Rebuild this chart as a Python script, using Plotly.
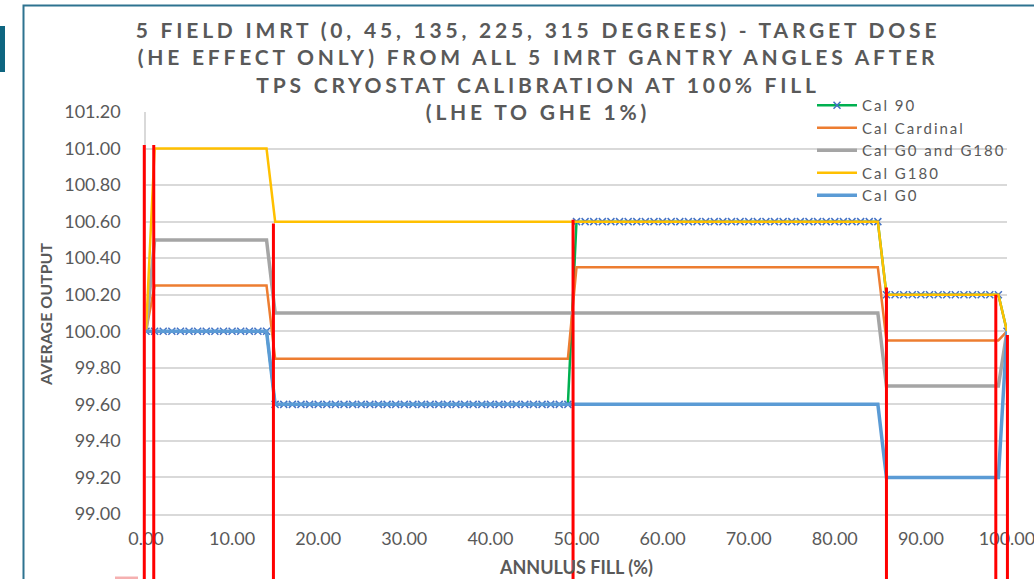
import plotly.graph_objects as go

# ---------------- data ----------------
fill_pct = [0, 1, 2, 3, 4, 5, 6, 7, 8, 9, 10, 11, 12, 13, 14, 15, 16, 17, 18, 19, 20,
            21, 22, 23, 24, 25, 26, 27, 28, 29, 30, 31, 32, 33, 34, 35, 36, 37, 38, 39, 40,
            41, 42, 43, 44, 45, 46, 47, 48, 49, 50, 51, 52, 53, 54, 55, 56, 57, 58, 59, 60,
            61, 62, 63, 64, 65, 66, 67, 68, 69, 70, 71, 72, 73, 74, 75, 76, 77, 78, 79, 80,
            81, 82, 83, 84, 85, 86, 87, 88, 89, 90, 91, 92, 93, 94, 95, 96, 97, 98, 99, 100]

# values read per fill point (0 | 1-14 | 15-49 | 50-85 | 86-99 | 100)
cal_90 = [100.0] + [100.0] * 14 + [99.6] * 35 + [100.6] * 36 + [100.2] * 14 + [100.0]
cal_cardinal = [100.0] + [100.25] * 14 + [99.85] * 35 + [100.35] * 36 + [99.95] * 14 + [100.0]
cal_g0_g180 = [100.0] + [100.5] * 14 + [100.1] * 35 + [100.1] * 36 + [99.7] * 14 + [100.0]
cal_g180 = [100.0] + [101.0] * 14 + [100.6] * 35 + [100.6] * 36 + [100.2] * 14 + [100.0]
cal_g0 = [100.0] + [100.0] * 14 + [99.6] * 35 + [99.6] * 36 + [99.2] * 14 + [100.0]

series_names = ["Cal 90", "Cal Cardinal", "Cal G0 and G180", "Cal G180", "Cal G0"]
series_values = [cal_90, cal_cardinal, cal_g0_g180, cal_g180, cal_g0]
series_colors = ["#00b050", "#ed7d31", "#a5a5a5", "#ffc000", "#5b9bd5"]
series_widths = [2.5, 2.5, 3.5, 2.5, 3.5]

# red marker lines drawn over the chart (x position, top value)
red_line_x = [-0.2, 0.9, 14.8, 49.6, 86.0, 98.7, 100.05]
red_line_top = [101.02, 101.02, 100.59, 100.61, 100.24, 100.20, 99.98]

x_ticks = [0, 10, 20, 30, 40, 50, 60, 70, 80, 90, 100]
y_ticks = [99.0, 99.2, 99.4, 99.6, 99.8, 100.0, 100.2, 100.4, 100.6, 100.8, 101.0, 101.2]
X_RANGE = [0, 100]
Y_RANGE = [99.0, 101.2]

title_lines = [
    "5 FIELD IMRT (0, 45, 135, 225, 315 DEGREES) - TARGET DOSE",
    "(HE EFFECT ONLY) FROM ALL 5 IMRT GANTRY ANGLES AFTER",
    "TPS CRYOSTAT CALIBRATION AT 100% FILL",
    "(LHE TO GHE 1%)",
]
x_title = "ANNULUS FILL (%)"
y_title = "AVERAGE OUTPUT"

# ---------------- layout geometry ----------------
W, H = 1034, 579
L, R, T, B = 146, 27, 112, 65
PW, PH = W - L - R, H - T - B


def px_x(px):
    return (px - L) / PW


def px_y(py):
    return (H - B - py) / PH


TEXT = "#595959"
FONT = "Lato, 'Open Sans', sans-serif"

fig = go.Figure()
for i, (name, vals, col, w) in enumerate(zip(series_names, series_values, series_colors, series_widths)):
    label = '<span style="letter-spacing:2px">' + name + "</span>"
    if i == 0:
        fig.add_trace(go.Scatter(
            x=fill_pct, y=vals, name=label, mode="lines+markers",
            line=dict(color=col, width=w),
            marker=dict(symbol="x-thin", size=7, color="#4472c4",
                        line=dict(color="#4472c4", width=1.5)),
        ))
    else:
        fig.add_trace(go.Scatter(
            x=fill_pct, y=vals, name=label, mode="lines",
            line=dict(color=col, width=w),
        ))

shapes = []
for xv, top in zip(red_line_x, red_line_top):
    xd = (xv - X_RANGE[0]) / (X_RANGE[1] - X_RANGE[0])
    shapes.append(dict(
        type="line", xref="x domain", yref="y domain",
        x0=xd, x1=xd,
        y0=(top - Y_RANGE[0]) / (Y_RANGE[1] - Y_RANGE[0]), y1=-0.2,
        line=dict(color="#ff0000", width=3), layer="above",
    ))
# slide frame decorations
shapes.append(dict(type="rect", xref="paper", yref="paper",
                   x0=px_x(23.5), x1=px_x(1045), y0=px_y(5.5), y1=px_y(600),
                   line=dict(color="#2e7390", width=2), fillcolor="rgba(0,0,0,0)", layer="below"))
shapes.append(dict(type="rect", xref="paper", yref="paper",
                   x0=px_x(-3), x1=px_x(5), y0=px_y(26), y1=px_y(72),
                   line=dict(width=0), fillcolor="#0e6580"))
shapes.append(dict(type="rect", xref="paper", yref="paper",
                   x0=px_x(115), x1=px_x(138), y0=px_y(576.5), y1=px_y(585),
                   line=dict(width=0), fillcolor="#f5b0b0"))

title_html = "<br>".join(
    '<span style="letter-spacing:3.8px">' + t + "</span>" for t in title_lines
)

fig.update_layout(
    width=W, height=H,
    margin=dict(l=L, r=R, t=T, b=B, autoexpand=False),
    paper_bgcolor="white", plot_bgcolor="white",
    font=dict(family=FONT, color=TEXT),
    title=dict(text=title_html, xref="container", yref="container",
               x=538 / W, xanchor="center", y=1 - 38 / H, yanchor="top",
               font=dict(family=FONT, size=21, color=TEXT, weight="bold")),
    xaxis=dict(range=X_RANGE, tickvals=x_ticks, tickformat=".2f",
               showgrid=False, zeroline=False, showline=True,
               linecolor="#d9d9d9", linewidth=1.5, ticks="",
               tickfont=dict(family=FONT, size=18, color=TEXT),
               ticklabelstandoff=8, ticklabeloverflow="allow", automargin=False),
    yaxis=dict(range=Y_RANGE, tickvals=y_ticks, tickformat=".2f",
               showgrid=True, gridcolor="#d9d9d9", gridwidth=1.5,
               zeroline=False, showline=True, linecolor="#d9d9d9", linewidth=1.5,
               ticks="", tickfont=dict(family=FONT, size=18, color=TEXT),
               ticklabelstandoff=20, automargin=False),
    legend=dict(x=px_x(812), y=px_y(89), xanchor="left", yanchor="top",
                bgcolor="rgba(0,0,0,0)", borderwidth=0,
                font=dict(family=FONT, size=15, color=TEXT),
                itemwidth=40, tracegroupgap=0),
    showlegend=True,
    shapes=shapes,
    annotations=[
        dict(text="<b>" + x_title + "</b>", xref="paper", yref="paper",
             x=px_x(576), y=px_y(567), xanchor="center", yanchor="middle",
             showarrow=False, font=dict(family=FONT, size=18, color=TEXT)),
        dict(text="<b>" + y_title + "</b>", xref="paper", yref="paper",
             x=px_x(45), y=px_y(315), xanchor="center", yanchor="middle",
             textangle=-90, showarrow=False,
             font=dict(family=FONT, size=16, color=TEXT)),
    ],
)

fig.write_html("out.html")
